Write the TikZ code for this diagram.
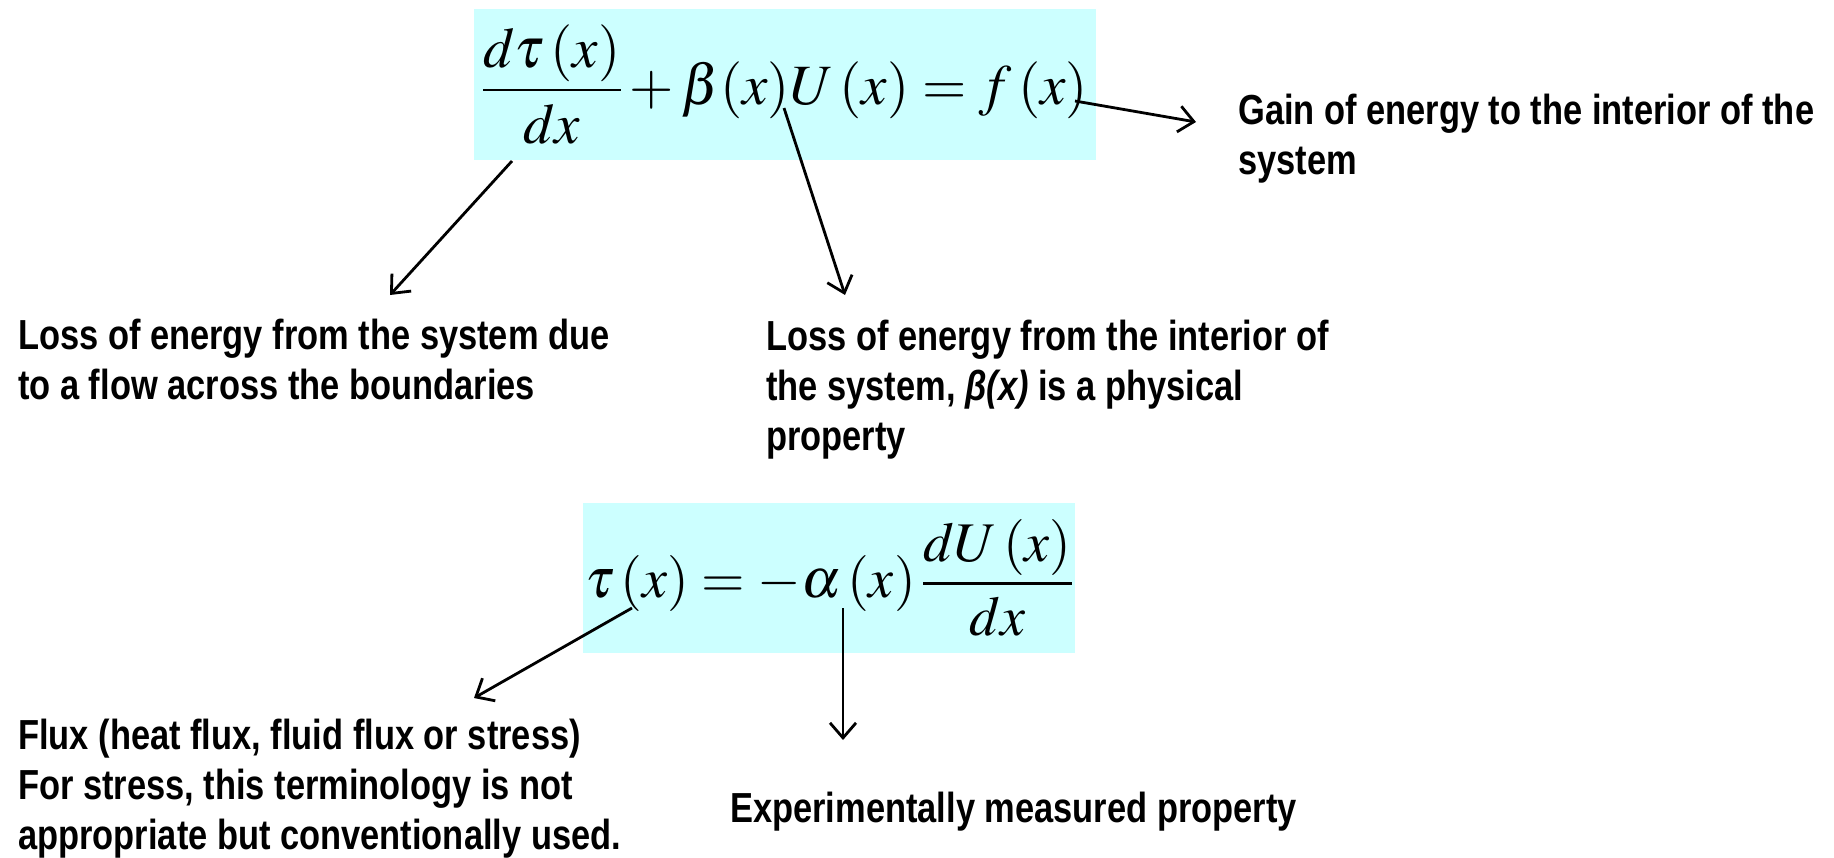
\documentclass[tikz,border=0pt]{standalone}
\usepackage{mathptmx}
\usepackage[no-math]{fontspec}
\setmainfont{Liberation Sans}[FakeStretch=0.82]
\usepackage{xcolor}
\usetikzlibrary{arrows.meta}
\definecolor{eqcyan}{HTML}{CCFFFF}

\begin{document}
\begin{tikzpicture}[
  x=1pt, y=-1pt,
  eqbox/.style={fill=eqcyan, inner sep=0pt},
  eqfont/.style={font=\fontsize{57}{60}\selectfont},
  lbl/.style={anchor=base west, align=left, inner sep=0pt, font=\fontsize{42}{50}\selectfont\bfseries},
  arr/.style={line width=2.8pt, -{Straight Barb[length=15pt,width=26pt]}},
]
\useasboundingbox (0,0) rectangle (1834,857);

% ---------- top: the balance equation ----------
\node[eqbox, eqfont, minimum width=622pt, minimum height=151pt] (baleq) at (785,84.5)
  {$\displaystyle\frac{\raisebox{-4pt}{$\displaystyle d\tau\,(x)$}}{dx}+\beta(x)U\,(x)=f\,(x)$};

% labels sit on the baseline of their last line
\node[lbl] (gain)     at (1238,174) {Gain of energy to the interior of the\\system};
\node[lbl] (lossflow) at (18,399)   {Loss of energy from the system due\\to a flow across the boundaries};
\node[lbl] (lossint)  at (766,450)  {Loss of energy from the interior of\\the system, \textit{β(x)} is a physical\\property};

\coordinate (fxend)  at (1075,101);  \coordinate (gaintip)  at (1196,122);
\coordinate (dxfoot) at (512,161);   \coordinate (flowtip)  at (390,295);
\coordinate (ufoot)  at (784,108);   \coordinate (inttip)   at (845,295);

\draw[arr] (fxend) -- (gaintip);
\draw[arr] (dxfoot) -- (flowtip);
\draw[arr] (ufoot) -- (inttip);

% ---------- bottom: the flux law ----------
\node[eqbox, font=\fontsize{56}{60}\selectfont, minimum width=492pt, minimum height=150pt] (fluxeq) at (829,578)
  {$\displaystyle\tau\,(x)=-\alpha\,(x)\,\frac{\raisebox{-5pt}{$\displaystyle dU\,(x)$}}{dx}$};

\node[lbl] (flux)     at (18,849)  {Flux (heat flux, fluid flux or stress)\\For stress, this terminology is not\\appropriate but conventionally used.};
\node[lbl] (measured) at (730,822) {Experimentally measured property};

\coordinate (taufoot)   at (632,608); \coordinate (fluxtip) at (474,698);
\coordinate (alphafoot) at (843,608); \coordinate (meastip) at (843,740);

\draw[arr] (taufoot) -- (fluxtip);
\draw[arr] (alphafoot) -- (meastip);
\end{tikzpicture}
\end{document}
